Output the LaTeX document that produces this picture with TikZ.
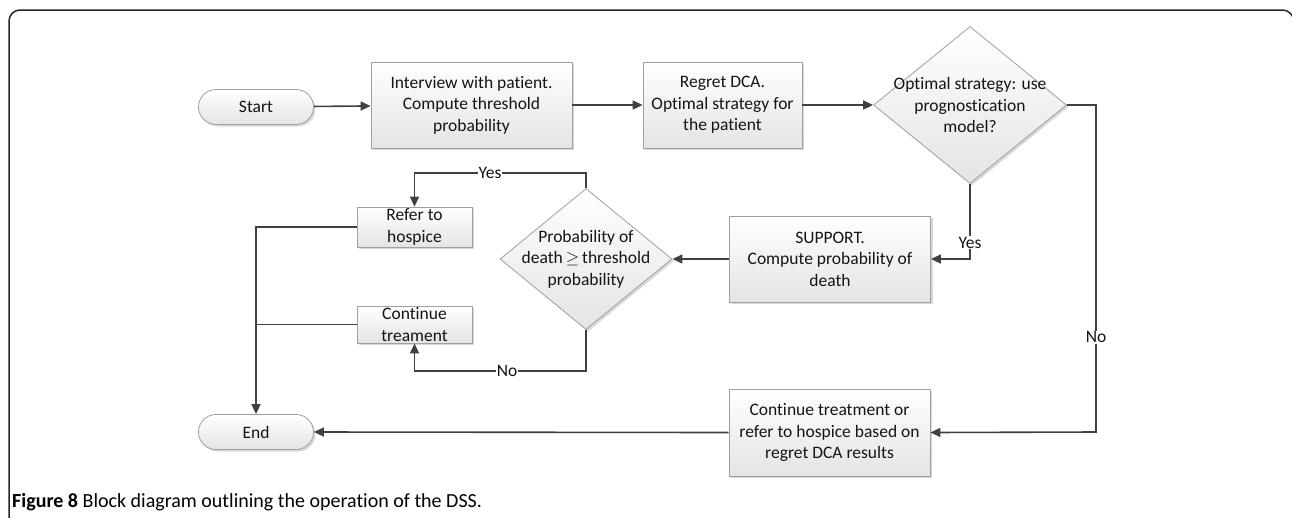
\documentclass[tikz,border=0pt]{standalone}
\usepackage{fontspec}
\setmainfont{Carlito}[Ligatures=NoCommon]
\usetikzlibrary{arrows.meta,shapes.geometric,shapes.misc,shadows}

\definecolor{edgegray}{HTML}{A0A0A0}
\definecolor{shadegray}{HTML}{E4E4E4}
\definecolor{wire}{HTML}{404040}
\definecolor{inkblack}{HTML}{141414}

\tikzset{
  boxtext/.style={font=\fontsize{17.5}{21.5}\selectfont, text=inkblack, align=center},
  softshadow/.style={drop shadow={shadow xshift=2pt, shadow yshift=-2pt, fill=black!30, opacity=0.5}},
  stepbox/.style={draw=edgegray, line width=0.8pt, top color=white, bottom color=shadegray,
                  softshadow, boxtext, inner sep=0pt},
  terminal/.style={rounded rectangle, draw=edgegray, line width=0.8pt, top color=white,
                   bottom color=shadegray, softshadow, boxtext, inner sep=0pt,
                   minimum width=115pt, minimum height=35pt},
  decision/.style={diamond, draw=edgegray, line width=0.8pt, top color=white,
                   bottom color=shadegray, softshadow, inner sep=0pt, aspect=1},
  conn/.style={draw=wire, line width=1.6pt, -{Triangle[length=10pt,width=9pt]}},
  wireonly/.style={draw=wire, line width=1.6pt},
  lbl/.style={fill=white, inner sep=1pt, boxtext}
}

\begin{document}
\begin{tikzpicture}[x=1pt,y=-1pt]
\useasboundingbox (0,0) rectangle (1292,517);

% outer frame, open at the bottom
\draw[line width=1.5pt, draw=black!85, rounded corners=11pt]
  (9,530) -- (9,10) -- (1293.5,10) -- (1293.5,530);

% terminals
\node[terminal] (start) at (256,107) {Start};
\node[terminal] (end) at (256,432) {End};

% process boxes
\node[stepbox, minimum width=201pt, minimum height=86pt] (interview) at (471.5,105)
  {Interview with patient.\\Compute threshold\\probability};
\node[stepbox, minimum width=159pt, minimum height=86pt] (regret) at (722.5,105)
  {Regret DCA.\\Optimal strategy for\\the patient};
\node[stepbox, minimum width=201pt, minimum height=86pt] (support) at (830,259)
  {SUPPORT.\\Compute probability of\\death};
\node[stepbox, minimum width=115pt, minimum height=40pt] (refer) at (414.5,227)
  {Refer to\\hospice};
\node[stepbox, minimum width=115pt, minimum height=37pt] (cont) at (414.5,324.5)
  {Continue\\treament};
\node[stepbox, minimum width=201pt, minimum height=87pt] (final) at (829.5,432.5)
  {Continue treatment or\\refer to hospice based on\\regret DCA results};

% decisions
\node[decision, minimum width=193pt, minimum height=157pt,
      label={[boxtext]center:Optimal strategy: use\\prognostication\\model?}] (opt) at (970,105) {};
\node[decision, minimum width=172pt, minimum height=141pt,
      label={[boxtext]center:Probability of\\death\,$\geq$\,threshold\\probability}] (prob) at (586,259) {};

% turning points of the connectors
\coordinate (yesup) at (586,173);
\coordinate (nodown) at (586,371);
\coordinate (noturn) at (1096,432);

% connectors
\draw[conn] (start) -- (interview);
\draw[conn] (interview) -- (regret);
\draw[conn] (regret) -- (opt);
\draw[conn] (opt.south) |- node[lbl, pos=0.39] {Yes} (support.east);
\draw[conn] (opt.east) -| node[lbl, pos=0.855] {No} (noturn) -- (final.east);
\draw[conn] (support.west) -- (prob.east);
\draw[conn] (prob.north) -- (yesup) -| node[lbl, pos=0.28] {Yes} (refer.north);
\draw[conn] (prob.south) -- (nodown) -| node[lbl, pos=0.23] {No} (cont.south);
\draw[conn] (refer.west) -| (end.north);
\draw[wireonly] (cont.west) -- (cont.west -| end.north);
\draw[conn] (final.west) -- (end.east);

% caption
\node[anchor=west, inner sep=0pt, text=black, font=\fontsize{20}{24}\selectfont] (caption) at (12,502)
  {\textbf{Figure 8} Block diagram outlining the operation of the DSS.};
\end{tikzpicture}
\end{document}
